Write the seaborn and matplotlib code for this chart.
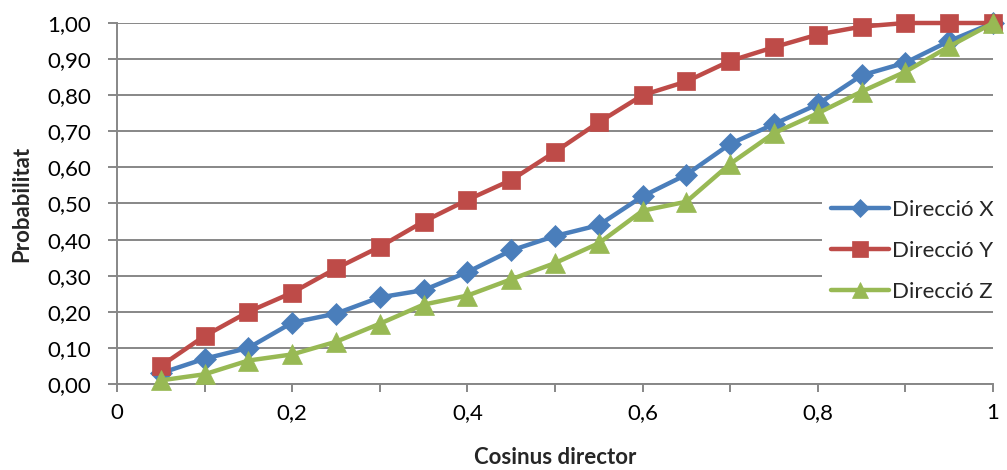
import matplotlib
matplotlib.use("Agg")
import matplotlib.pyplot as plt
import seaborn as sns
import pandas as pd
from matplotlib.ticker import FuncFormatter, MultipleLocator

# Cosine values and cumulative probabilities per direction
cosinus = [0.05, 0.10, 0.15, 0.20, 0.25, 0.30, 0.35, 0.40, 0.45, 0.50,
           0.55, 0.60, 0.65, 0.70, 0.75, 0.80, 0.85, 0.90, 0.95, 1.00]
direccio_x = [0.03, 0.07, 0.10, 0.17, 0.195, 0.24, 0.26, 0.31, 0.37, 0.41,
              0.44, 0.52, 0.58, 0.665, 0.72, 0.775, 0.855, 0.89, 0.95, 1.00]
direccio_y = [0.05, 0.133, 0.20, 0.253, 0.32, 0.38, 0.45, 0.51, 0.565, 0.643,
              0.725, 0.80, 0.838, 0.895, 0.933, 0.968, 0.99, 1.00, 1.00, 1.00]
direccio_z = [0.01, 0.027, 0.065, 0.082, 0.117, 0.167, 0.22, 0.245, 0.29, 0.335,
              0.39, 0.48, 0.505, 0.61, 0.695, 0.75, 0.81, 0.865, 0.935, 1.00]

series_names = ["Direcció X", "Direcció Y", "Direcció Z"]
series_values = [direccio_x, direccio_y, direccio_z]
series_colors = ["#4A7EBB", "#BE4B48", "#98B954"]
series_markers = ["D", "s", "^"]
series_msize = [11, 13.5, 14]

sns.set_theme(style="white")
plt.rcParams["font.family"] = ["Lato", "DejaVu Sans"]
FS = 16

fig = plt.figure(figsize=(10.07, 4.70), dpi=100)
ax = fig.add_axes([117 / 1007, 1 - 384 / 470, (993 - 117) / 1007, (384 - 23) / 470])

grid_color = "#878787"
for name, vals, col, mk, ms in zip(series_names, series_values, series_colors,
                                    series_markers, series_msize):
    df = pd.DataFrame({"cos": cosinus, "p": vals})
    sns.lineplot(data=df, x="cos", y="p", ax=ax, color=col, marker=mk,
                 markersize=ms, markeredgecolor=col, markeredgewidth=0.5,
                 linewidth=3.2, label=name, zorder=3, clip_on=False)

ax.set_xlim(0, 1)
ax.set_ylim(0, 1)
ax.yaxis.set_major_locator(MultipleLocator(0.1))
ax.xaxis.set_major_locator(MultipleLocator(0.2))
ax.xaxis.set_minor_locator(MultipleLocator(0.1))

ax.yaxis.set_major_formatter(FuncFormatter(lambda v, p: f"{v:.2f}".replace(".", ",")))

def fmt_x(v, p):
    if abs(v) < 1e-9:
        return "0"
    if abs(v - 1) < 1e-9:
        return "1"
    return f"{v:.1f}".replace(".", ",")

ax.xaxis.set_major_formatter(FuncFormatter(fmt_x))

ax.grid(axis="y", color=grid_color, linewidth=1.4)
ax.set_axisbelow(True)
for side in ["top", "right"]:
    ax.spines[side].set_visible(False)
for side in ["left", "bottom"]:
    ax.spines[side].set_color(grid_color)
    ax.spines[side].set_linewidth(1.4)

ax.tick_params(axis="y", which="major", left=True, length=6.5, width=1.4,
               color=grid_color, labelsize=FS, pad=12, labelcolor="black")
ax.tick_params(axis="x", which="both", bottom=True, length=6, width=1.4,
               color=grid_color, labelsize=FS, pad=8, labelcolor="black")

ax.set_xlabel("Cosinus director", fontsize=FS, fontweight="bold")
ax.set_ylabel("Probabilitat", fontsize=FS, fontweight="bold")
ax.yaxis.set_label_coords(-0.097, 0.5)
ax.xaxis.set_label_coords(0.5, -0.175)

leg = ax.legend(loc="center left", bbox_to_anchor=(822 / 1007, 1 - 251 / 470),
                bbox_transform=fig.transFigure, frameon=True, facecolor="white",
                edgecolor="white", framealpha=1, fontsize=FS, handlelength=2.6,
                handletextpad=0.15, labelspacing=0.95, borderpad=0.4,
                borderaxespad=0, markerscale=0.85)
leg.get_frame().set_linewidth(0)
leg.set_zorder(5)

fig.savefig("out.png", dpi=100)
